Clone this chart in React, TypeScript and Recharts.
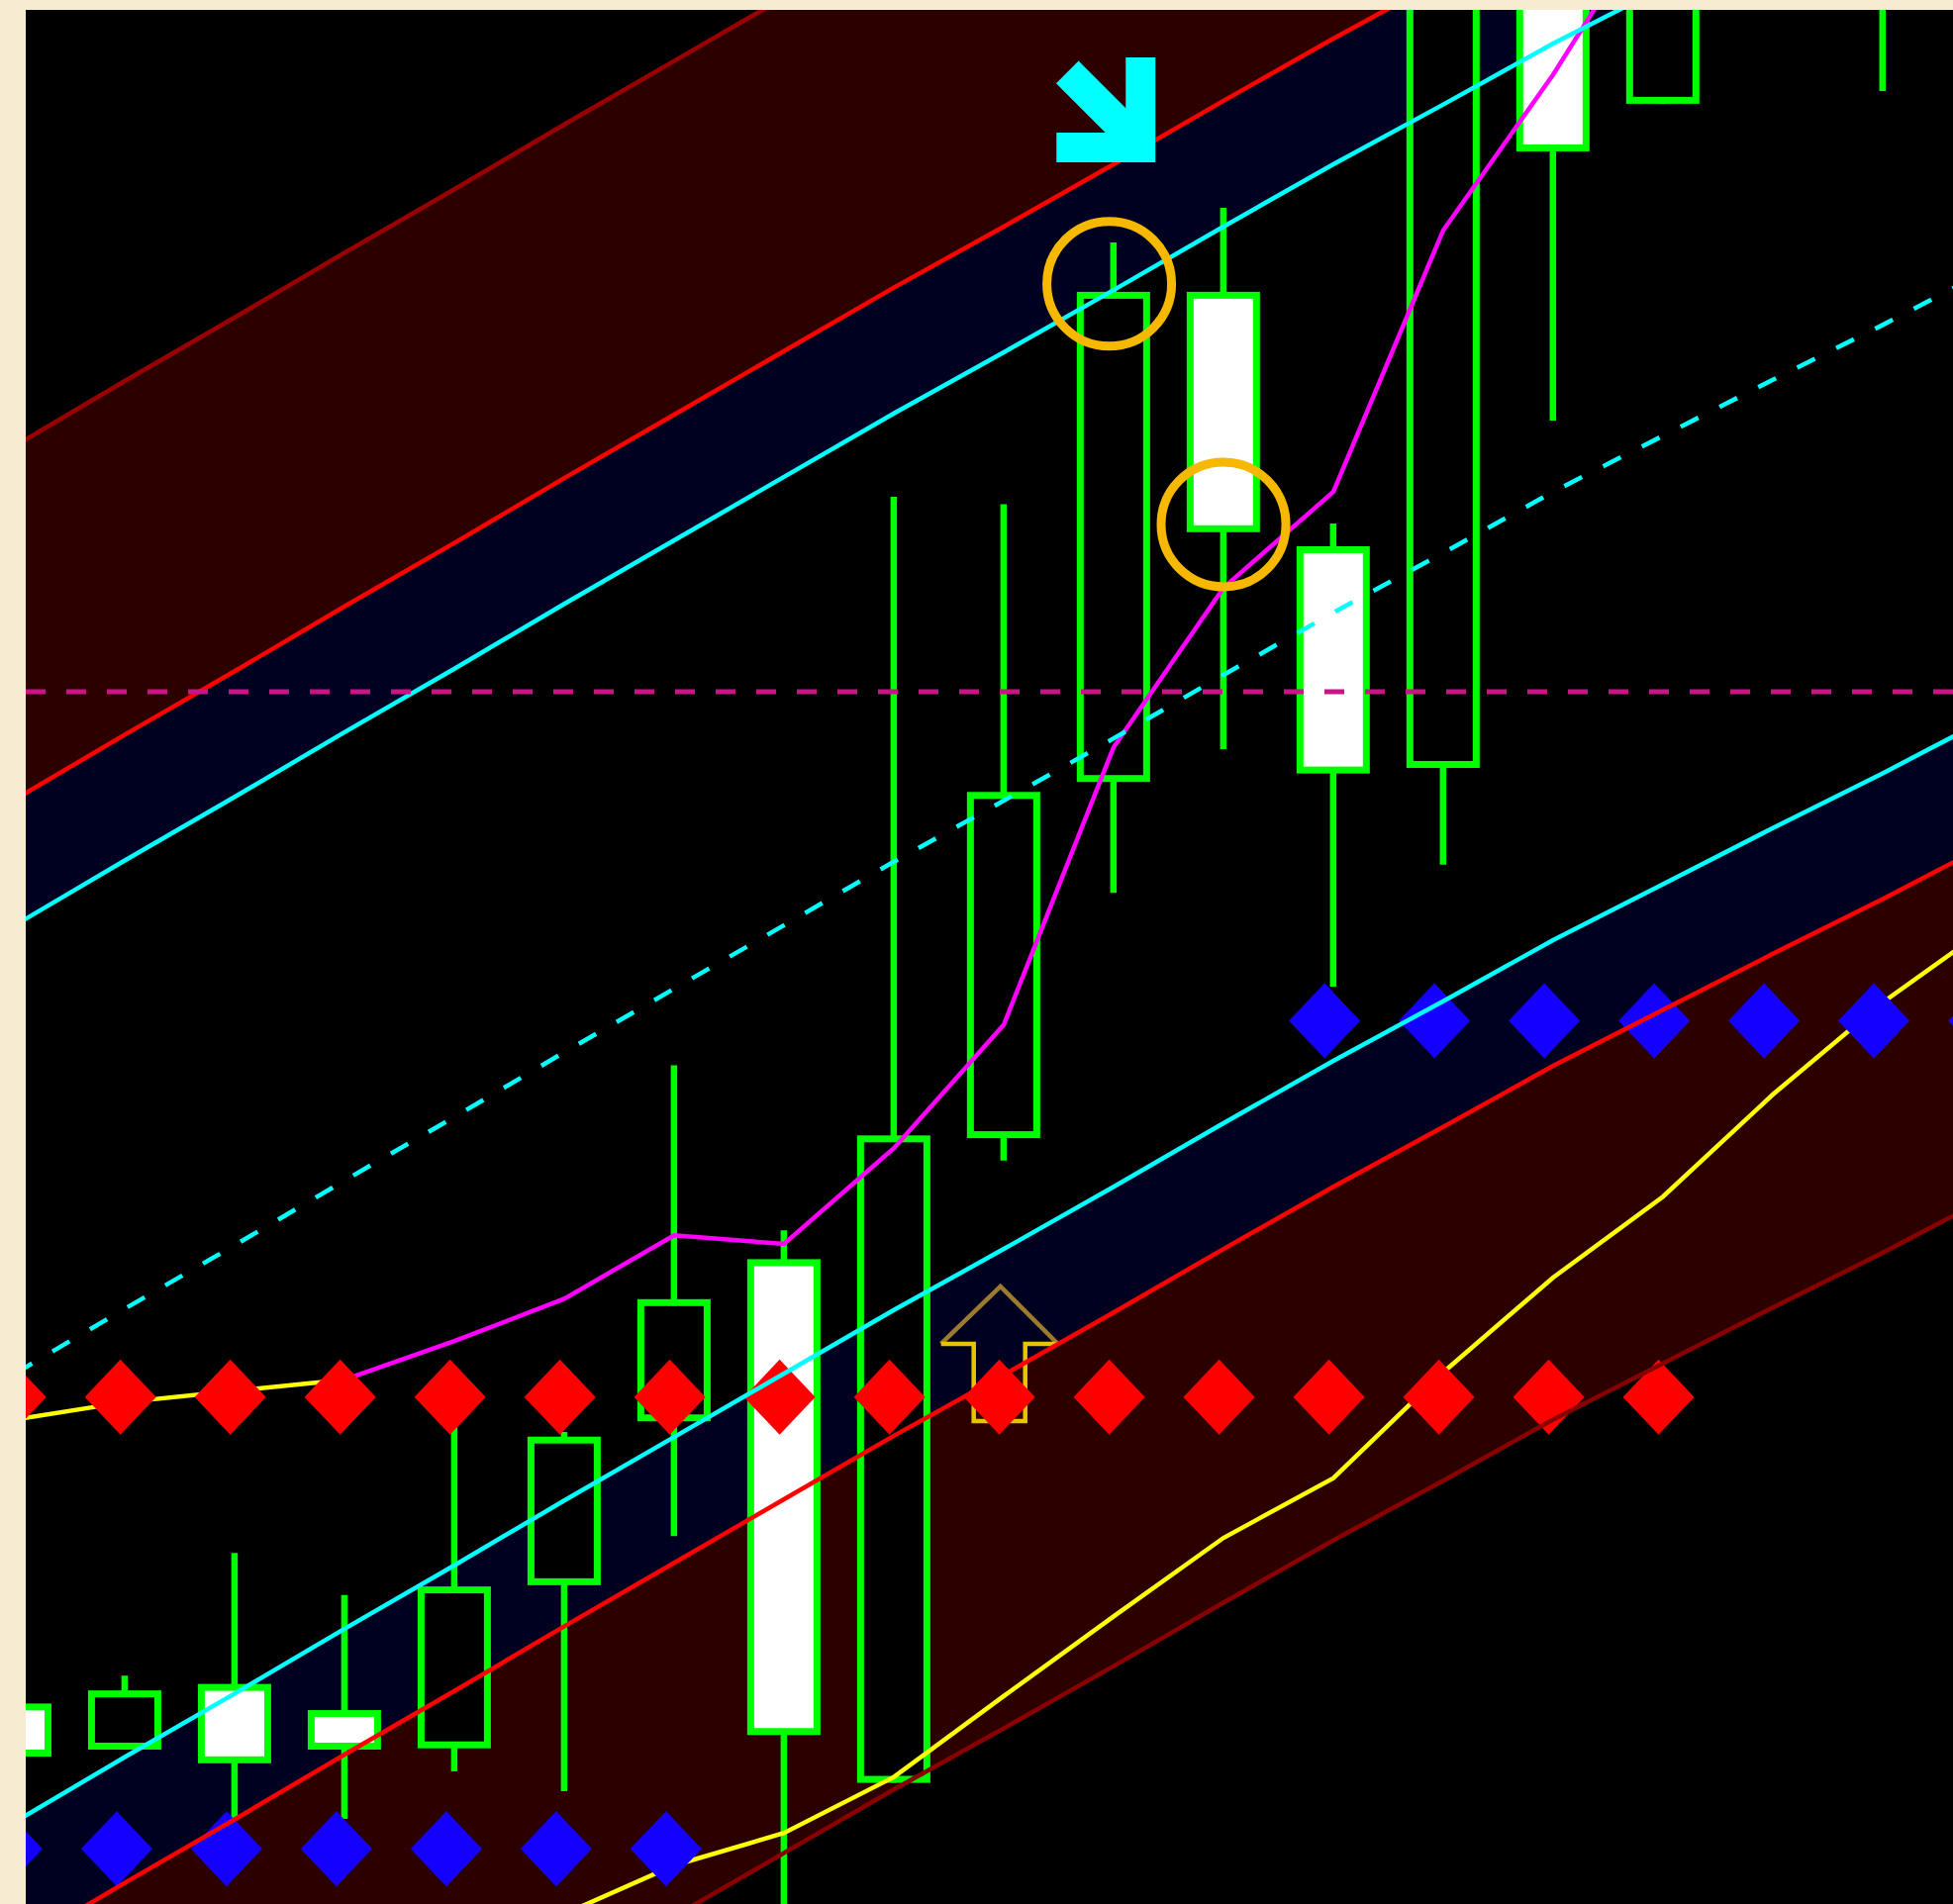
import React from 'react';
import { ComposedChart, XAxis, YAxis, Area, Line, Bar, Scatter, ReferenceLine, ReferenceDot } from 'recharts';

// ---- data (price units) ----
const barIndex = [0, 1, 2, 3, 4, 5, 6, 7, 8, 9, 10, 11, 12, 13, 14, 15, 16, 17, 18];
const opens = [161, 124, 176.7, 155.7, 125, 256, 387.6, 517.8, 97.3, 615, 901, 1294.6, 1090.3, 912.3, 1609, 1445.6, 1560, 1679, null];
const highs = [169, 183.4, 282, 248.2, 384, 379, 673.4, 541, 1130, 1124, 1334.3, 1362, 1108.6, 1629, 1649, 1679, 1720, 1700, null];
const lows = [109, 124, 68.3, 68.3, 106.5, 90.6, 295.5, -20, 97.3, 597, 812, 927.4, 736.6, 834.7, 1191.2, 1445.6, 1545, 1455.9, null];
const closes = [118.4, 171.5, 113, 124, 255, 375.3, 485.7, 135.7, 617.2, 893, 1294.6, 1101.6, 907.8, 1569, 1407.4, 1629, 1690, 1559, null];

const channelCenter = [426, 478, 529, 581, 632, 684, 735, 786, 837, 886, 936, 987, 1037, 1085, 1134, 1179, 1224, 1268, 1314];
const bandInner = 360;
const bandMid = 461;
const bandOuter = 745;

const fastMA = [389, 403, 412, 421, 452, 486, 537, 530, 607, 706, 929, 1057, 1134, 1344, 1469, 1609, null, null, null];
const fastMAColorSplit = 3;
const slowMA = [null, null, null, null, -46, -8, 31, 57, 102, 167, 231, 294, 342, 427, 503, 568, 650, 724, 787];

const sellSignalBars = [0, 1, 2, 3, 4, 5, 6, 7, 8, 9, 10, 11, 12, 13, 14, 15];
const sellSignalLevel = 407;
const lowSignalBars = [0, 1, 2, 3, 4, 5, 6];
const lowSignalLevel = 44.4;
const highSignalBars = [12, 13, 14, 15, 16, 17, 18];
const highSignalLevel = 709.2;

const resistanceLevel = 973.5;
const circleMarks = [
  { i: 9.96, v: 1301 },
  { i: 11.0, v: 1107.8 },
];
const downArrowMark = { i: 9.93, v: 1441.6 };
const upArrowMark = { i: 8.97, v: 495.9 };

// ---- table ----
const rows = barIndex.map((i, k) => {
  const c = channelCenter[k];
  const hasBar = highs[k] != null;
  return {
    i,
    center: c,
    upOuter: [c + bandMid, c + bandOuter],
    upInner: [c + bandInner, c + bandMid],
    loInner: [c - bandMid, c - bandInner],
    loOuter: [c - bandOuter, c - bandMid],
    lUO: c + bandOuter,
    lUR: c + bandMid,
    lUC: c + bandInner,
    lLC: c - bandInner,
    lLR: c - bandMid,
    lLO: c - bandOuter,
    maY: k <= fastMAColorSplit ? fastMA[k] : null,
    maM: k >= fastMAColorSplit ? fastMA[k] : null,
    slow: slowMA[k],
    range: hasBar ? [lows[k], highs[k]] : null,
    open: opens[k],
    high: highs[k],
    low: lows[k],
    close: closes[k],
  };
});

const redDiamonds = sellSignalBars.map((b) => ({ i: b - 0.04, v: sellSignalLevel }));
const blueLowDiamonds = lowSignalBars.map((b) => ({ i: b - 0.074, v: lowSignalLevel }));
const blueHighDiamonds = highSignalBars.map((b) => ({ i: b - 0.08, v: highSignalLevel }));

const GREEN = '#00FF00';

const CandleShape = (props: any) => {
  const { x, y, width, height, payload } = props;
  if (!payload || payload.high == null || !isFinite(height)) return null;
  const cx = x + width / 2;
  const k = height / (payload.high - payload.low);
  const py = (v: number) => y + (payload.high - v) * k;
  const top = py(Math.max(payload.open, payload.close));
  const bottom = py(Math.min(payload.open, payload.close));
  const bull = payload.close > payload.open;
  return (
    <g>
      <line x1={cx} x2={cx} y1={y} y2={y + height} stroke={GREEN} strokeWidth={6.5} />
      <rect
        x={cx - 33.5}
        y={top + 3.5}
        width={67}
        height={Math.max(bottom - top - 7, 1)}
        fill={bull ? '#000000' : '#FFFFFF'}
        stroke={GREEN}
        strokeWidth={7}
      />
    </g>
  );
};

const makeDiamond = (color: string) => (p: any) => {
  const { cx, cy } = p;
  if (cx == null || cy == null) return null;
  return (
    <polygon
      points={`${cx},${cy - 38} ${cx + 36},${cy} ${cx},${cy + 38} ${cx - 36},${cy}`}
      fill={color}
    />
  );
};

const DownArrow = (p: any) => {
  const { cx, cy } = p;
  return (
    <g>
      <path
        d={`M ${cx - 50} ${cy + 39} L ${cx + 35} ${cy + 39} L ${cx + 35} ${cy - 52}`}
        fill="none"
        stroke="#00FFFF"
        strokeWidth={30}
        strokeLinejoin="miter"
      />
      <path d={`M ${cx - 39} ${cy - 37} L ${cx + 25} ${cy + 27}`} stroke="#00FFFF" strokeWidth={32} />
    </g>
  );
};

const UpArrow = (p: any) => {
  const { cx, cy } = p;
  return (
    <g fill="none" strokeWidth={4.5}>
      <path d={`M ${cx - 60} ${cy + 58} L ${cx} ${cy} L ${cx + 58} ${cy + 58}`} stroke="#9C7B2E" />
      <path
        d={`M ${cx - 60} ${cy + 58} L ${cx - 27} ${cy + 58} L ${cx - 27} ${cy + 136} L ${cx + 25} ${cy + 136} L ${cx + 25} ${cy + 58} L ${cx + 58} ${cy + 58}`}
        stroke="#E8C400"
      />
    </g>
  );
};

const lineProps = {
  type: 'linear' as const,
  dot: false,
  activeDot: false,
  isAnimationActive: false,
  strokeWidth: 4.5,
  connectNulls: false,
};

export default function App() {
  return (
    <div
      style={{
        position: 'absolute',
        left: 0,
        top: 0,
        width: 1973,
        height: 1924,
        background: '#F7EBD1',
        overflow: 'hidden',
      }}
    >
      <div
        style={{
          position: 'absolute',
          left: 26,
          top: 10,
          width: 1947,
          height: 1914,
          overflow: 'hidden',
          background: '#000000',
        }}
      >
        <ComposedChart width={1947} height={1914} data={rows} margin={{ top: 0, right: 0, bottom: 0, left: 0 }}>
          <XAxis type="number" dataKey="i" domain={[0.098, 17.64]} hide allowDataOverflow />
          <YAxis type="number" domain={[0, 1521]} hide allowDataOverflow />

          <Area dataKey="upOuter" type="linear" stroke="none" fill="#2D0000" fillOpacity={1} isAnimationActive={false} dot={false} activeDot={false} zIndex={100} />
          <Area dataKey="upInner" type="linear" stroke="none" fill="#000020" fillOpacity={1} isAnimationActive={false} dot={false} activeDot={false} zIndex={100} />
          <Area dataKey="loInner" type="linear" stroke="none" fill="#000020" fillOpacity={1} isAnimationActive={false} dot={false} activeDot={false} zIndex={100} />
          <Area dataKey="loOuter" type="linear" stroke="none" fill="#2D0000" fillOpacity={1} isAnimationActive={false} dot={false} activeDot={false} zIndex={100} />

          <Bar dataKey="range" barSize={74} shape={CandleShape} isAnimationActive={false} zIndex={300} />

          <Line dataKey="slow" stroke="#FFFF00" {...lineProps} zIndex={400} />
          <Line dataKey="maY" stroke="#FFFF00" {...lineProps} zIndex={400} />
          <Line dataKey="maM" stroke="#FF00FF" {...lineProps} zIndex={400} />

          <ReferenceDot x={upArrowMark.i} y={upArrowMark.v} r={1} shape={UpArrow} zIndex={550} />

          <Scatter data={redDiamonds} dataKey="v" shape={makeDiamond('#FF0000')} isAnimationActive={false} zIndex={600} />
          <Scatter data={blueLowDiamonds} dataKey="v" shape={makeDiamond('#1400FF')} isAnimationActive={false} zIndex={600} />
          <Scatter data={blueHighDiamonds} dataKey="v" shape={makeDiamond('#1400FF')} isAnimationActive={false} zIndex={600} />

          <Line dataKey="lUO" stroke="#9A0000" {...lineProps} zIndex={700} />
          <Line dataKey="lUR" stroke="#FF0000" {...lineProps} zIndex={700} />
          <Line dataKey="lUC" stroke="#00FFFF" {...lineProps} zIndex={700} />
          <Line dataKey="center" stroke="#00FFFF" strokeDasharray="20 24" {...lineProps} zIndex={700} />
          <Line dataKey="lLC" stroke="#00FFFF" {...lineProps} zIndex={700} />
          <Line dataKey="lLR" stroke="#FF0000" {...lineProps} zIndex={700} />
          <Line dataKey="lLO" stroke="#8A0000" {...lineProps} zIndex={700} />

          <ReferenceLine y={resistanceLevel} stroke="#C71585" strokeWidth={5} strokeDasharray="20 21" zIndex={800} />

          {circleMarks.map((c, k) => (
            <ReferenceDot key={k} x={c.i} y={c.v} r={63} fill="none" stroke="#F6B800" strokeWidth={9} zIndex={900} />
          ))}

          <ReferenceDot x={downArrowMark.i} y={downArrowMark.v} r={1} shape={DownArrow} zIndex={950} />
        </ComposedChart>
      </div>
    </div>
  );
}
